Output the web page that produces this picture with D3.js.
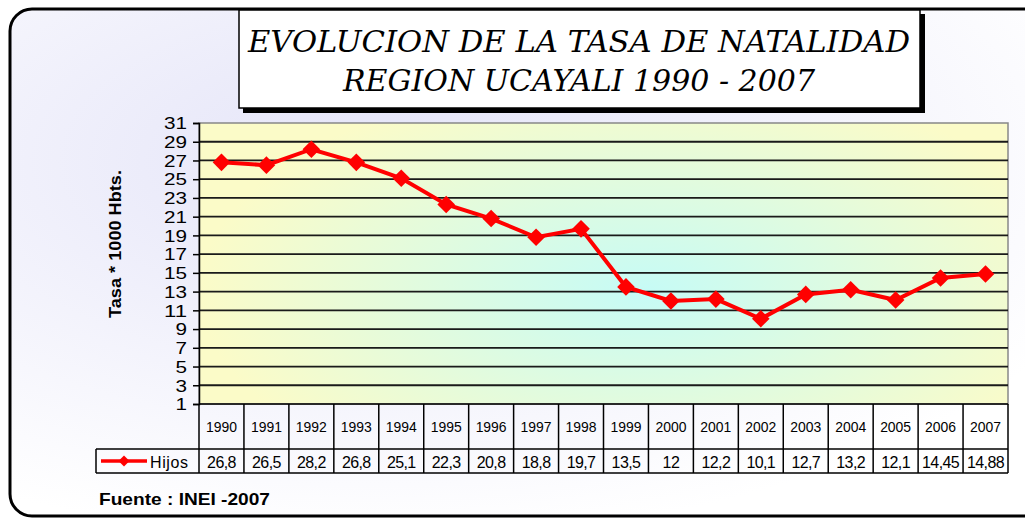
<!DOCTYPE html>
<html><head><meta charset="utf-8">
<script src="https://cdn.jsdelivr.net/npm/d3@7"></script>
<style>html,body{margin:0;padding:0;background:#fff;overflow:hidden}svg{display:block}</style>
</head><body>
<script>
const years = ["1990","1991","1992","1993","1994","1995","1996","1997","1998","1999","2000","2001","2002","2003","2004","2005","2006","2007"];
const values = [26.8,26.5,28.2,26.8,25.1,22.3,20.8,18.8,19.7,13.5,12,12.2,10.1,12.7,13.2,12.1,14.45,14.88];
const valueLabels = ["26,8","26,5","28,2","26,8","25,1","22,3","20,8","18,8","19,7","13,5","12","12,2","10,1","12,7","13,2","12,1","14,45","14,88"];
const yTicks = [1,3,5,7,9,11,13,15,17,19,21,23,25,27,29,31];
const titleLines = ["EVOLUCION DE LA TASA DE NATALIDAD","REGION UCAYALI 1990 - 2007"];
const seriesName = "Hijos";
const yLabel = "Tasa * 1000 Hbts.";
const source = "Fuente : INEI -2007";

const W=1025,H=518;
const FONT="Arial, 'Liberation Sans', sans-serif";
const svg=d3.select("body").append("svg").attr("width",W).attr("height",H);
const defs=svg.append("defs");
const bg=defs.append("radialGradient").attr("id","bg").attr("cx","0.35").attr("cy","0.3").attr("r","0.75");
bg.append("stop").attr("offset","0").attr("stop-color","#e4e4f8");
bg.append("stop").attr("offset","1").attr("stop-color","#ffffff");
const pg=defs.append("radialGradient").attr("id","pg").attr("cx","0.55").attr("cy","0.6").attr("r","0.55")
  .attr("gradientTransform","translate(0.55,0.6) scale(1,1.4) translate(-0.55,-0.6)");
pg.append("stop").attr("offset","0").attr("stop-color","#c6fbf6");
pg.append("stop").attr("offset","1").attr("stop-color","#fbfbc8");

// outer frame
svg.append("rect").attr("x",10).attr("y",9).attr("width",1040).attr("height",507).attr("rx",22)
  .attr("fill","url(#bg)").attr("stroke","#000").attr("stroke-width",3);

// title box
svg.append("rect").attr("x",243).attr("y",14).attr("width",682).attr("height",99).attr("fill","#000");
svg.append("rect").attr("x",239).attr("y",10).attr("width",681).attr("height",98).attr("fill","#fff").attr("stroke","#000").attr("stroke-width",1.5);
const tl=[{t:titleLines[0],y:52,len:662},{t:titleLines[1],y:91,len:472}];
svg.selectAll(".title").data(tl).join("text").attr("class","title")
  .attr("x",579).attr("y",d=>d.y).attr("text-anchor","middle")
  .attr("font-family","'DejaVu Serif', serif").attr("font-style","italic").attr("font-size",29)
  .attr("textLength",d=>d.len).attr("lengthAdjust","spacingAndGlyphs")
  .text(d=>d.t);

const x0=199,x1=1008,yTop=123,yBot=404;
const x=d3.scaleBand().domain(years).range([x0,x1]).padding(0);
const y=d3.scaleLinear().domain([1,31]).range([yBot,yTop]);
const bw=x.bandwidth();

// plot area
svg.append("rect").attr("x",x0).attr("y",yTop).attr("width",x1-x0).attr("height",yBot-yTop)
  .attr("fill","url(#pg)").attr("stroke","#888").attr("stroke-width",1.5);
// grid
svg.append("g").selectAll("line").data(yTicks.filter(v=>v>1&&v<31)).join("line")
  .attr("x1",x0).attr("x2",x1).attr("y1",d=>y(d)).attr("y2",d=>y(d))
  .attr("stroke","#1a1a1a").attr("stroke-width",1.8);

// y axis
const ax=svg.append("g").attr("transform",`translate(${x0},0)`)
  .call(d3.axisLeft(y).tickValues(yTicks).tickSize(6).tickPadding(6).tickFormat(d3.format("d")));
ax.select(".domain").attr("stroke","#000").attr("stroke-width",1.5);
ax.selectAll(".tick line").attr("stroke","#000").attr("stroke-width",1.5);
ax.selectAll(".tick text").attr("font-family",FONT).attr("font-size",16).attr("fill","#000")
  .attr("dy","0.36em")
  .attr("textLength",d=>String(d).length*11.5).attr("lengthAdjust","spacingAndGlyphs");

svg.append("text").attr("transform","translate(121,244) rotate(-90)").attr("text-anchor","middle")
  .attr("font-family",FONT).attr("font-weight","bold").attr("font-size",17)
  .attr("textLength",148).attr("lengthAdjust","spacingAndGlyphs")
  .text(yLabel);

// line
const pts=years.map((yr,i)=>({yr,v:values[i]}));
svg.append("path").datum(pts).attr("fill","none").attr("stroke","#ff0000").attr("stroke-width",4)
  .attr("d",d3.line().x(d=>x(d.yr)+bw/2).y(d=>y(d.v)));
const sym=d3.symbol().type(d3.symbolSquare).size(155);
svg.append("g").selectAll("path").data(pts).join("path")
  .attr("transform",d=>`translate(${x(d.yr)+bw/2},${y(d.v)}) rotate(45)`)
  .attr("d",sym).attr("fill","#ff0000");

// data table
const rTop=404,rMid=449,rBot=473,legL=96;
const tg=svg.append("g").attr("stroke","#000").attr("stroke-width",1.5);
tg.append("line").attr("x1",x0).attr("x2",x1).attr("y1",rTop).attr("y2",rTop);
tg.append("line").attr("x1",legL).attr("x2",x1).attr("y1",rMid).attr("y2",rMid);
tg.append("line").attr("x1",legL).attr("x2",x1).attr("y1",rBot).attr("y2",rBot);
tg.append("line").attr("x1",legL).attr("x2",legL).attr("y1",rMid).attr("y2",rBot);
tg.selectAll(".v").data(years.concat(["end"])).join("line")
  .attr("x1",(d,i)=>x0+i*bw).attr("x2",(d,i)=>x0+i*bw).attr("y1",rTop).attr("y2",rBot);

svg.append("g").selectAll("text").data(years).join("text")
  .attr("x",d=>x(d)+bw/2).attr("y",432).attr("text-anchor","middle")
  .attr("font-family",FONT).attr("font-size",15)
  .attr("textLength",31).attr("lengthAdjust","spacingAndGlyphs")
  .text(d=>d);
svg.append("g").selectAll("text").data(valueLabels).join("text")
  .attr("x",(d,i)=>x(years[i])+bw/2).attr("y",468).attr("text-anchor","middle")
  .attr("font-family",FONT).attr("font-size",16).attr("letter-spacing",-0.6)
  .text(d=>d);

// legend
svg.append("line").attr("x1",101).attr("x2",147).attr("y1",461).attr("y2",461).attr("stroke","#ff0000").attr("stroke-width",3.5);
svg.append("path").attr("transform","translate(124,461) rotate(45)").attr("d",d3.symbol().type(d3.symbolSquare).size(60)).attr("fill","#ff0000");
svg.append("text").attr("x",150).attr("y",468).attr("font-family",FONT).attr("font-size",16).attr("letter-spacing",0.6).text(seriesName);

svg.append("text").attr("x",99).attr("y",505).attr("font-family",FONT)
  .attr("font-weight","bold").attr("font-size",17)
  .attr("textLength",171).attr("lengthAdjust","spacingAndGlyphs").text(source);
</script>
</body></html>
